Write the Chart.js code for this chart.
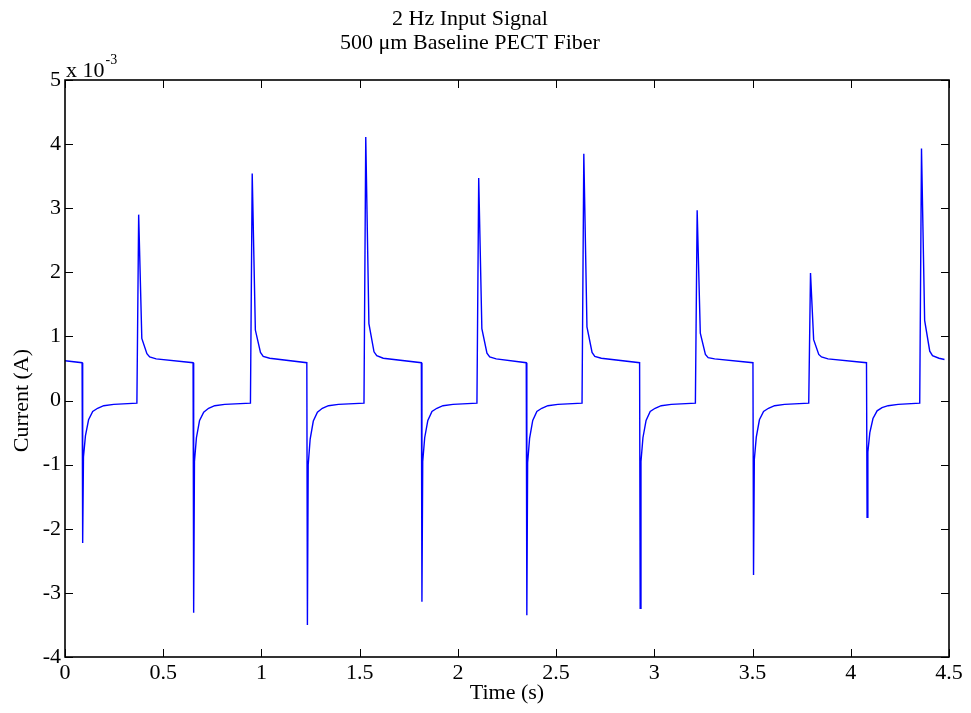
<!DOCTYPE html>
<html>
<head>
<meta charset="utf-8">
<script src="https://cdn.jsdelivr.net/npm/chart.js@4.4.1/dist/chart.umd.min.js"></script>
<style>
html,body{margin:0;padding:0;background:#fff;}
canvas{display:block;}
</style>
</head>
<body>
<canvas id="c" width="971" height="713"></canvas>
<script>
// Time (s)
const timeS = [
 0.000, 0.087, 0.090, 0.094, 0.104, 0.120, 0.141, 0.166, 0.197, 0.248, 0.366,
 0.375, 0.391, 0.417, 0.431, 0.464, 0.652,
 0.655, 0.659, 0.669, 0.685, 0.706, 0.731, 0.762, 0.813, 0.944,
 0.953, 0.969, 0.995, 1.009, 1.042, 1.231,
 1.234, 1.238, 1.248, 1.264, 1.285, 1.310, 1.341, 1.392, 1.522,
 1.531, 1.547, 1.573, 1.587, 1.620, 1.814,
 1.817, 1.821, 1.831, 1.847, 1.868, 1.893, 1.924, 1.975, 2.097,
 2.106, 2.122, 2.148, 2.162, 2.195, 2.348,
 2.351, 2.355, 2.365, 2.381, 2.402, 2.427, 2.458, 2.509, 2.632,
 2.641, 2.657, 2.683, 2.697, 2.730, 2.925,
 2.928, 2.932, 2.942, 2.958, 2.979, 3.004, 3.035, 3.086, 3.209,
 3.218, 3.234, 3.260, 3.274, 3.307, 3.502,
 3.505, 3.509, 3.519, 3.535, 3.556, 3.581, 3.612, 3.663, 3.786,
 3.795, 3.811, 3.837, 3.851, 3.884, 4.080,
 4.083, 4.087, 4.097, 4.113, 4.134, 4.159, 4.190, 4.241, 4.351,
 4.360, 4.376, 4.402, 4.416, 4.449, 4.477
];
// Current (x 10^-3 A)
const currentE3 = [
 0.62, 0.59, -2.22, -0.88, -0.55, -0.30, -0.17, -0.12, -0.08, -0.06, -0.04,
 2.90, 0.97, 0.73, 0.68, 0.65, 0.59,
 -3.31, -0.95, -0.58, -0.31, -0.18, -0.12, -0.08, -0.06, -0.04,
 3.54, 1.10, 0.75, 0.69, 0.66, 0.59,
 -3.50, -1.00, -0.60, -0.32, -0.18, -0.12, -0.08, -0.06, -0.04,
 4.11, 1.20, 0.76, 0.70, 0.66, 0.59,
 -3.14, -0.95, -0.58, -0.31, -0.17, -0.12, -0.08, -0.06, -0.04,
 3.47, 1.12, 0.74, 0.68, 0.65, 0.59,
 -3.35, -0.97, -0.59, -0.31, -0.17, -0.12, -0.08, -0.06, -0.04,
 3.85, 1.15, 0.75, 0.69, 0.66, 0.59,
 -3.24, -0.95, -0.58, -0.31, -0.17, -0.12, -0.08, -0.06, -0.04,
 2.97, 1.05, 0.72, 0.67, 0.65, 0.59,
 -2.72, -0.92, -0.57, -0.30, -0.17, -0.12, -0.08, -0.06, -0.04,
 1.99, 0.95, 0.72, 0.68, 0.65, 0.59,
 -1.82, -0.80, -0.50, -0.28, -0.16, -0.11, -0.08, -0.06, -0.04,
 3.93, 1.25, 0.77, 0.70, 0.66, 0.64
];
const xTickLabels = ['0','0.5','1','1.5','2','2.5','3','3.5','4','4.5'];
const yTickLabels = ['-4','-3','-2','-1','0','1','2','3','4','5'];
const titleLines = ['2 Hz Input Signal', '500 \u03bcm Baseline PECT Fiber'];
const yAxisTitle = 'Current (A)';
const xAxisTitle = 'Time (s)';

const FONT = 'Liberation Serif, "Times New Roman", serif';
const points = timeS.map((t, i) => ({x: t, y: currentE3[i]}));

const framePlugin = {
  id: 'frame',
  afterDraw(chart) {
    const {ctx, chartArea: a, scales} = chart;
    ctx.save();
    // inward ticks
    ctx.strokeStyle = '#000';
    ctx.lineWidth = 1;
    const tl = 8;
    scales.x.ticks.forEach((tk, i) => {
      const px = Math.round(scales.x.getPixelForTick(i)) + 0.5;
      ctx.beginPath();
      ctx.moveTo(px, a.bottom); ctx.lineTo(px, a.bottom - tl);
      ctx.moveTo(px, a.top); ctx.lineTo(px, a.top + tl);
      ctx.stroke();
    });
    scales.y.ticks.forEach((tk, i) => {
      const py = Math.round(scales.y.getPixelForTick(i)) + 0.5;
      ctx.beginPath();
      ctx.moveTo(a.left, py); ctx.lineTo(a.left + tl, py);
      ctx.moveTo(a.right, py); ctx.lineTo(a.right - tl, py);
      ctx.stroke();
    });
    // box
    ctx.lineWidth = 1.6;
    ctx.strokeRect(a.left, a.top, a.right - a.left, a.bottom - a.top);
    // title
    ctx.fillStyle = '#000';
    ctx.font = '22px ' + FONT;
    ctx.textAlign = 'center';
    ctx.textBaseline = 'middle';
    ctx.fillText(titleLines[0], 470, 19);
    ctx.fillText(titleLines[1], 470, 43);
    // y axis title
    ctx.save();
    ctx.translate(22, scales.y.getPixelForValue(0));
    ctx.rotate(-Math.PI / 2);
    ctx.fillText(yAxisTitle, 0, 0);
    ctx.restore();
    // exponent
    ctx.textAlign = 'left';
    ctx.textBaseline = 'alphabetic';
    ctx.font = '22px ' + FONT;
    ctx.fillText('x 10', a.left + 1, a.top - 3);
    const w = ctx.measureText('x 10').width;
    ctx.font = '14px ' + FONT;
    ctx.fillText('-3', a.left + w + 2, a.top - 16);
    ctx.restore();
  }
};

new Chart(document.getElementById('c'), {
  type: 'line',
  data: {
    datasets: [{
      data: points,
      borderColor: '#0000ff',
      borderWidth: 1.4,
      pointRadius: 0,
      tension: 0,
      fill: false
    }]
  },
  options: {
    responsive: false,
    animation: false,
    layout: {padding: {top: 80, right: 22, left: 0, bottom: 0}},
    plugins: {legend: {display: false}, title: {display: false}, tooltip: {enabled: false}},
    scales: {
      x: {
        type: 'linear', min: 0, max: 4.5,
        grid: {display: false, drawTicks: false}, border: {display: false},
        ticks: {stepSize: 0.5, color: '#000', padding: 3, maxRotation: 0,
          font: {family: FONT, size: 22},
          callback: (v, i) => xTickLabels[i]},
        title: {display: true, text: xAxisTitle, color: '#000',
          font: {family: FONT, size: 22}, padding: {top: 0, bottom: 7}},
        afterFit(s) { s.height = 56; }
      },
      y: {
        type: 'linear', min: -4, max: 5,
        grid: {display: false, drawTicks: false}, border: {display: false},
        ticks: {stepSize: 1, color: '#000', padding: 4,
          font: {family: FONT, size: 22},
          callback: (v, i) => yTickLabels[i]},
        afterFit(s) { s.width = 65; }
      }
    }
  },
  plugins: [framePlugin]
});
</script>
</body>
</html>
